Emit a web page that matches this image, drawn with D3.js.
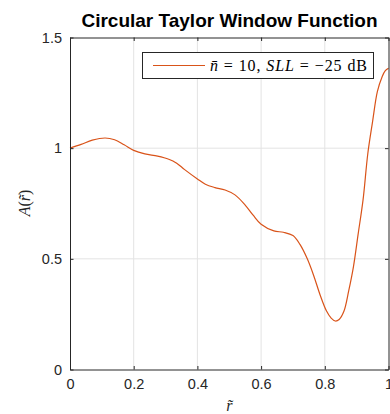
<!DOCTYPE html>
<html>
<head>
<meta charset="utf-8">
<script src="https://cdn.jsdelivr.net/npm/d3@7/dist/d3.min.js"></script>
<style>
  html, body { margin: 0; padding: 0; background: #fff; }
  svg { display: block; }
</style>
</head>
<body>
<svg id="chart" width="390" height="414"></svg>
<script>
// Normalised radius samples and the circular Taylor amplitude at each one
const radius = [0, 0.035, 0.07, 0.11, 0.14, 0.17, 0.2, 0.235, 0.275, 0.31, 0.335, 0.36, 0.4, 0.425, 0.455,
  0.487, 0.518, 0.55, 0.575, 0.6, 0.64, 0.67, 0.7, 0.722, 0.745, 0.765, 0.785, 0.805, 0.82, 0.833,
  0.845, 0.86, 0.875, 0.89, 0.905, 0.92, 0.935, 0.95, 0.965, 0.98, 0.99, 1.0];
const amplitude = [1.0, 1.017, 1.036, 1.046, 1.038, 1.015, 0.99, 0.974, 0.964, 0.95, 0.932, 0.903, 0.861, 0.837, 0.822,
  0.811, 0.789, 0.743, 0.697, 0.656, 0.626, 0.62, 0.605, 0.565, 0.5, 0.425, 0.338, 0.265, 0.232, 0.219,
  0.226, 0.263, 0.355, 0.465, 0.615, 0.765, 0.975, 1.12, 1.255, 1.323, 1.35, 1.361];
const xTicks = [0, 0.2, 0.4, 0.6, 0.8, 1];
const xTickLabels = ["0", "0.2", "0.4", "0.6", "0.8", "1"];
const yTicks = [0, 0.5, 1, 1.5];
const yTickLabels = ["0", "0.5", "1", "1.5"];

const svg = d3.select("#chart");
const mLeft = 70, mRight = 388.5, mTop = 37.5, mBottom = 369.5;
const x = d3.scaleLinear().domain([0, 1]).range([mLeft, mRight]);
const y = d3.scaleLinear().domain([0, 1.5]).range([mBottom, mTop]);

const axisColor = "#262626";
const gridColor = "#e3e3e3";
const lineColor = "#D95319";

// grid lines
const grid = svg.append("g");
grid.selectAll(".gx").data(xTicks.slice(1, -1)).join("line")
  .attr("x1", d => x(d)).attr("x2", d => x(d))
  .attr("y1", mTop).attr("y2", mBottom)
  .attr("stroke", gridColor).attr("stroke-width", 1);
grid.selectAll(".gy").data(yTicks.slice(1, -1)).join("line")
  .attr("x1", mLeft).attr("x2", mRight)
  .attr("y1", d => y(d)).attr("y2", d => y(d))
  .attr("stroke", gridColor).attr("stroke-width", 1);

// data curve
const pts = radius.map((r, i) => [r, amplitude[i]]);
svg.append("path")
  .datum(pts)
  .attr("fill", "none")
  .attr("stroke", lineColor)
  .attr("stroke-width", 1.2)
  .attr("d", d3.line().x(d => x(d[0])).y(d => y(d[1])).curve(d3.curveCatmullRom.alpha(0.5)));

// axes with inward ticks
const tickLen = 3.5;
const xAxisB = d3.axisBottom(x).tickValues(xTicks).tickSize(-tickLen).tickSizeOuter(0).tickPadding(9)
  .tickFormat((d, i) => xTickLabels[i]);
const xAxisT = d3.axisTop(x).tickValues(xTicks).tickSize(-tickLen).tickSizeOuter(0).tickFormat("");
const yAxisL = d3.axisLeft(y).tickValues(yTicks).tickSize(-tickLen).tickSizeOuter(0).tickPadding(8)
  .tickFormat((d, i) => yTickLabels[i]);
const yAxisR = d3.axisRight(y).tickValues(yTicks).tickSize(-tickLen).tickSizeOuter(0).tickFormat("");

function styleAxis(g) {
  g.select(".domain").attr("stroke", axisColor).attr("stroke-width", 1);
  g.selectAll(".tick line").attr("stroke", axisColor).attr("stroke-width", 1);
  g.selectAll(".tick text").attr("fill", axisColor)
    .attr("font-family", "Liberation Sans, Arial, sans-serif").attr("font-size", 14.5);
}
svg.append("g").attr("transform", `translate(0,${mBottom})`).call(xAxisB).call(styleAxis);
svg.append("g").attr("transform", `translate(0,${mTop})`).call(xAxisT).call(styleAxis);
svg.append("g").attr("transform", `translate(${mLeft},0)`).call(yAxisL).call(styleAxis);
svg.append("g").attr("transform", `translate(${mRight},0)`).call(yAxisR).call(styleAxis);

// title
svg.append("text")
  .attr("x", 229.5).attr("y", 26.5)
  .attr("text-anchor", "middle")
  .attr("font-family", "Liberation Sans, Arial, sans-serif")
  .attr("font-weight", "bold").attr("font-size", 19)
  .attr("fill", "#000")
  .text("Circular Taylor Window Function");

// axis labels
const serif = "Liberation Serif, Times New Roman, serif";
svg.append("text")
  .attr("x", (mLeft + mRight) / 2).attr("y", 411)
  .attr("text-anchor", "middle")
  .attr("font-family", serif).attr("font-size", 16).attr("font-style", "italic")
  .attr("fill", axisColor)
  .text("r\u0303");

const yl = svg.append("text")
  .attr("transform", `translate(30,${(mTop + mBottom) / 2 - 0.5}) rotate(-90)`)
  .attr("text-anchor", "middle")
  .attr("font-family", serif).attr("font-size", 16)
  .attr("fill", axisColor);
yl.append("tspan").attr("font-style", "italic").text("A");
yl.append("tspan").text("(");
yl.append("tspan").attr("font-style", "italic").text("r\u0303");
yl.append("tspan").text(")");

// legend
const lg = svg.append("g");
lg.append("rect")
  .attr("x", 142.5).attr("y", 52.5).attr("width", 231).attr("height", 26)
  .attr("fill", "#fff").attr("stroke", axisColor).attr("stroke-width", 1);
lg.append("line")
  .attr("x1", 153).attr("x2", 205).attr("y1", 65.5).attr("y2", 65.5)
  .attr("stroke", lineColor).attr("stroke-width", 1.2);
const lt = lg.append("text")
  .attr("x", 210).attr("y", 70.5)
  .attr("font-family", serif).attr("font-size", 16)
  .attr("fill", "#000")
  .attr("textLength", 157).attr("lengthAdjust", "spacing");
lt.append("tspan").attr("font-style", "italic").text("n\u0304");
lt.append("tspan").text(" = 10, ");
lt.append("tspan").attr("font-style", "italic").text("SLL");
lt.append("tspan").text(" = \u221225 dB");
</script>
</body>
</html>
